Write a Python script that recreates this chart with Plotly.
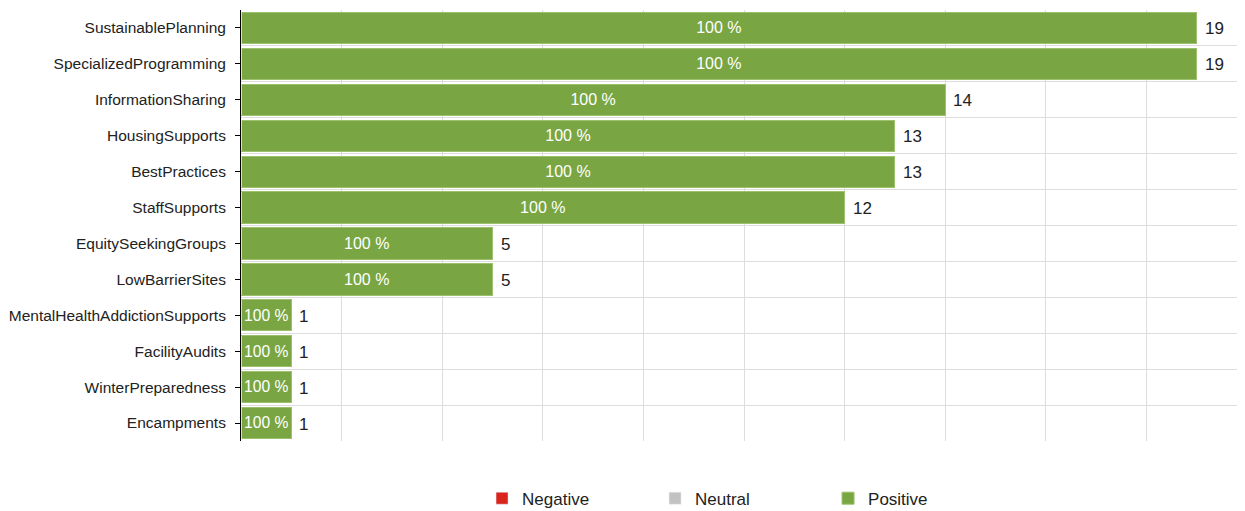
import plotly.graph_objects as go

categories = [
    "SustainablePlanning", "SpecializedProgramming", "InformationSharing",
    "HousingSupports", "BestPractices", "StaffSupports", "EquitySeekingGroups",
    "LowBarrierSites", "MentalHealthAddictionSupports", "FacilityAudits",
    "WinterPreparedness", "Encampments",
]
negative = [0, 0, 0, 0, 0, 0, 0, 0, 0, 0, 0, 0]
neutral = [0, 0, 0, 0, 0, 0, 0, 0, 0, 0, 0, 0]
positive = [19, 19, 14, 13, 13, 12, 5, 5, 1, 1, 1, 1]
totals = [n + u + p for n, u, p in zip(negative, neutral, positive)]
pos_pct = ["%d %%" % round(100 * p / t) for p, t in zip(positive, totals)]

colors = {
    'neg': '#d9231b',
    'neu': '#c2c2c2',
    'pos': '#79a642',
    'grid': '#dddddd',
    'font': '#222222',
}
font_family = "Liberation Sans, Arial"

fig = go.Figure()
fig.add_trace(go.Bar(y=categories, x=negative, orientation='h', name='Negative',
                     marker=dict(color=colors['neg'])))
fig.add_trace(go.Bar(y=categories, x=neutral, orientation='h', name='Neutral',
                     marker=dict(color=colors['neu'])))
fig.add_trace(go.Bar(y=categories, x=positive, orientation='h', name='Positive',
                     marker=dict(color=colors['pos'], line=dict(color='#9cc06e', width=1)),
                     text=pos_pct, textposition='inside', insidetextanchor='middle',
                     textfont=dict(color='white', size=16, family=font_family)))

# invisible trace on an overlaid axis, only to draw gridlines on category boundaries
fig.add_trace(go.Bar(y=categories, x=negative, orientation='h', yaxis='y2',
                     showlegend=False, hoverinfo='skip', marker=dict(color='rgba(0,0,0,0)')))

# totals at the end of each bar
for c, t in zip(categories, totals):
    fig.add_annotation(x=t, y=c, text=str(t), showarrow=False, xanchor='left', xshift=6, yshift=-1,
                       font=dict(size=17, color=colors['font'], family=font_family))

# page body has an 8px margin, so margins are shifted by that much
fig.update_layout(
    width=1245, height=511,
    barmode='stack', bargap=0.13,
    plot_bgcolor='white', paper_bgcolor='white',
    font=dict(family=font_family, size=16, color=colors['font']),
    margin=dict(l=233, r=6, t=2, b=75, pad=0),
    uniformtext=dict(minsize=16, mode='show'),
    xaxis=dict(range=[0, 20], dtick=2, showgrid=True, gridcolor=colors['grid'],
               showticklabels=False, zeroline=False, showline=False, automargin=False),
    yaxis=dict(type='category', categoryorder='array', categoryarray=categories,
               autorange='reversed', showgrid=False, showline=True, linecolor='black',
               linewidth=1, ticks='outside', ticklen=5, tickcolor='black', automargin=False,
               ticklabelstandoff=6, tickfont=dict(size=15.5, family=font_family)),
    yaxis2=dict(type='category', categoryorder='array', categoryarray=categories,
                autorange='reversed', overlaying='y', side='left', tickson='boundaries',
                showgrid=True, gridcolor=colors['grid'], showticklabels=False, ticks='',
                automargin=False),
    legend=dict(orientation='h', x=0.2396, xanchor='left', y=-0.092, yanchor='top',
                entrywidth=128, entrywidthmode='pixels', traceorder='normal',
                font=dict(size=17, family=font_family)),
    showlegend=True,
)

fig.write_html("out.html")
